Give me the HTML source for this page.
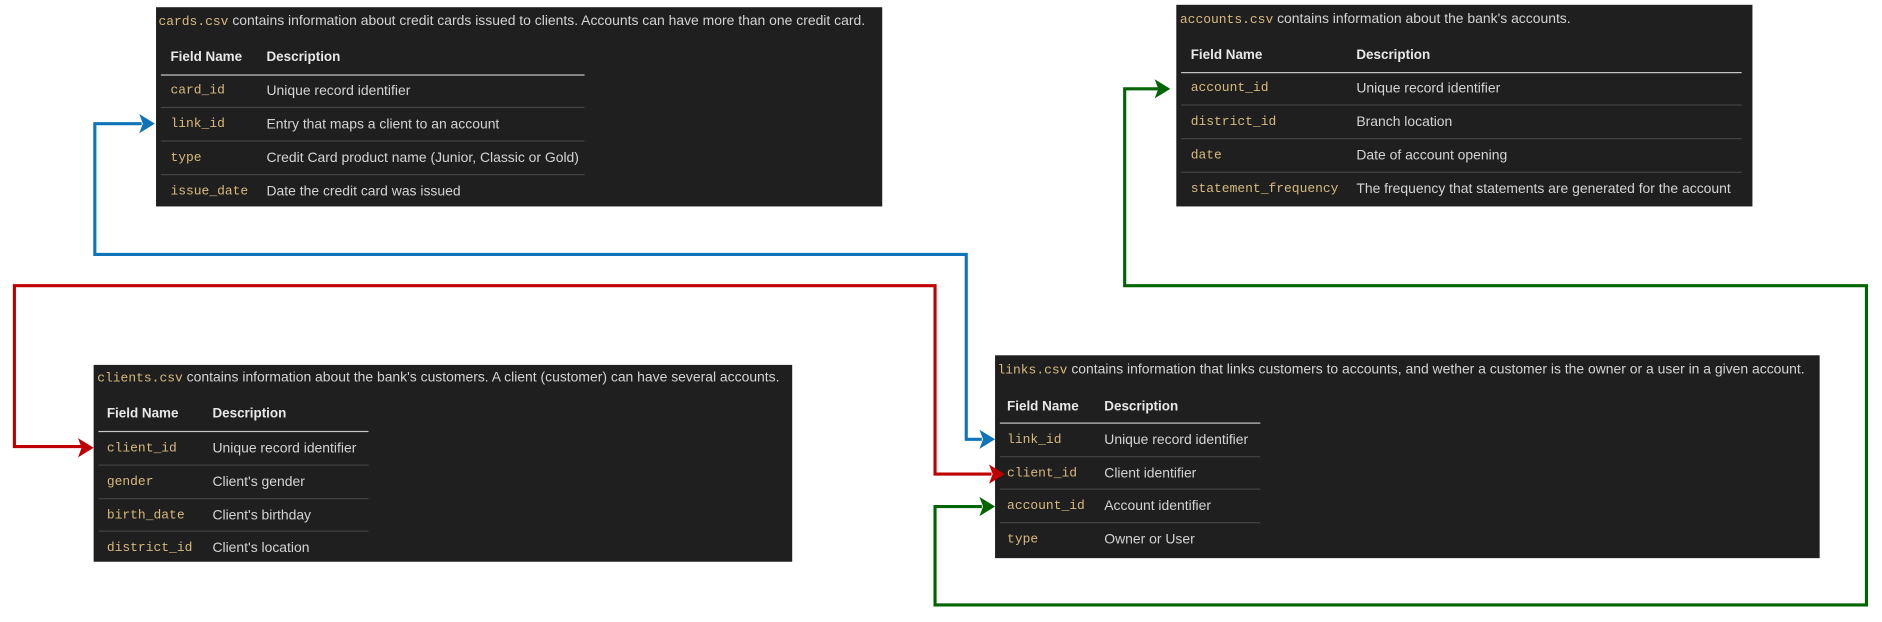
<!DOCTYPE html>
<html><head><meta charset="utf-8"><style>
html,body{margin:0;padding:0;background:#fff;width:1882px;height:622px;overflow:hidden}
#s{position:absolute;left:0;top:0;width:1568px;height:518px;transform:scale(1.2003);transform-origin:0 0}
.b{position:absolute;background:#1f1f1f}
.t{position:absolute;white-space:nowrap;font-family:"Liberation Sans",sans-serif;font-size:11.6px;color:#d4d4d4;line-height:14px;margin-top:1px}
.m{font-family:"Liberation Mono",monospace;font-size:10.8px;color:#d7ba7d}
.h{font-weight:bold;color:#e8e8e8;font-size:11.2px}
.l{position:absolute;height:1px;background:#444}
.L{position:absolute;height:1px;background:#c8c8c8}
svg{position:absolute;left:0;top:0}
</style></head><body><div id="s">
<!-- cards -->
<div class="b" style="left:130px;top:6px;width:605px;height:166px"></div>
<div class="t" style="left:132px;top:10px"><span class="m">cards.csv</span> contains information about credit cards issued to clients. Accounts can have more than one credit card.</div>
<div class="t h" style="left:142px;top:40px">Field Name</div><div class="t h" style="left:222px;top:40px">Description</div>
<div class="L" style="left:134px;top:62px;width:353px"></div>
<div class="t m" style="left:142px;top:68px">card_id</div><div class="t" style="left:222px;top:68px">Unique record identifier</div>
<div class="l" style="left:134px;top:89px;width:353px"></div>
<div class="t m" style="left:142px;top:96px">link_id</div><div class="t" style="left:222px;top:96px">Entry that maps a client to an account</div>
<div class="l" style="left:134px;top:117px;width:353px"></div>
<div class="t m" style="left:142px;top:124px">type</div><div class="t" style="left:222px;top:124px">Credit Card product name (Junior, Classic or Gold)</div>
<div class="l" style="left:134px;top:145px;width:353px"></div>
<div class="t m" style="left:142px;top:152px">issue_date</div><div class="t" style="left:222px;top:152px">Date the credit card was issued</div>
<!-- accounts -->
<div class="b" style="left:980px;top:4px;width:480px;height:168px"></div>
<div class="t" style="left:983px;top:8px"><span class="m">accounts.csv</span> contains information about the bank's accounts.</div>
<div class="t h" style="left:992px;top:38px">Field Name</div><div class="t h" style="left:1130px;top:38px">Description</div>
<div class="L" style="left:984px;top:60px;width:467px"></div>
<div class="t m" style="left:992px;top:66px">account_id</div><div class="t" style="left:1130px;top:66px">Unique record identifier</div>
<div class="l" style="left:984px;top:87px;width:467px"></div>
<div class="t m" style="left:992px;top:94px">district_id</div><div class="t" style="left:1130px;top:94px">Branch location</div>
<div class="l" style="left:984px;top:115px;width:467px"></div>
<div class="t m" style="left:992px;top:122px">date</div><div class="t" style="left:1130px;top:122px">Date of account opening</div>
<div class="l" style="left:984px;top:143px;width:467px"></div>
<div class="t m" style="left:992px;top:150px">statement_frequency</div><div class="t" style="left:1130px;top:150px">The frequency that statements are generated for the account</div>
<!-- clients -->
<div class="b" style="left:78px;top:304px;width:582px;height:164px"></div>
<div class="t" style="left:81px;top:307px"><span class="m">clients.csv</span> contains information about the bank's customers. A client (customer) can have several accounts.</div>
<div class="t h" style="left:89px;top:337px">Field Name</div><div class="t h" style="left:177px;top:337px">Description</div>
<div class="L" style="left:82px;top:359px;width:225px"></div>
<div class="t m" style="left:89px;top:366px">client_id</div><div class="t" style="left:177px;top:366px">Unique record identifier</div>
<div class="l" style="left:82px;top:387px;width:225px"></div>
<div class="t m" style="left:89px;top:394px">gender</div><div class="t" style="left:177px;top:394px">Client's gender</div>
<div class="l" style="left:82px;top:415px;width:225px"></div>
<div class="t m" style="left:89px;top:422px">birth_date</div><div class="t" style="left:177px;top:422px">Client's birthday</div>
<div class="l" style="left:82px;top:442px;width:225px"></div>
<div class="t m" style="left:89px;top:449px">district_id</div><div class="t" style="left:177px;top:449px">Client's location</div>
<!-- links -->
<div class="b" style="left:829px;top:296px;width:687px;height:169px"></div>
<div class="t" style="left:831px;top:300px"><span class="m">links.csv</span> contains information that links customers to accounts, and wether a customer is the owner or a user in a given account.</div>
<div class="t h" style="left:839px;top:331px">Field Name</div><div class="t h" style="left:920px;top:331px">Description</div>
<div class="L" style="left:833px;top:352px;width:217px"></div>
<div class="t m" style="left:839px;top:359px">link_id</div><div class="t" style="left:920px;top:359px">Unique record identifier</div>
<div class="l" style="left:833px;top:380px;width:217px"></div>
<div class="t m" style="left:839px;top:387px">client_id</div><div class="t" style="left:920px;top:387px">Client identifier</div>
<div class="l" style="left:833px;top:407px;width:217px"></div>
<div class="t m" style="left:839px;top:414px">account_id</div><div class="t" style="left:920px;top:414px">Account identifier</div>
<div class="l" style="left:833px;top:435px;width:217px"></div>
<div class="t m" style="left:839px;top:442px">type</div><div class="t" style="left:920px;top:442px">Owner or User</div>
<svg width="1568" height="518" viewBox="0 0 1568 518">
<g fill="none" stroke-width="2.6">
<polyline stroke="#0f75b8" points="118,103 79,103 79,212 805,212 805,366 818,366"/>
<polyline stroke="#c00000" points="68,372 12,372 12,238 779,238 779,395 826,395"/>
<polyline stroke="#006400" points="965,74 937,74 937,238 1555,238 1555,504 779,504 779,422 818,422"/>
</g>
<polygon fill="#0f75b8" points="129,103 116,95 119,103 116,111"/>
<polygon fill="#0f75b8" points="829,366 816,358 819,366 816,374"/>
<polygon fill="#c00000" points="78,373 65,365 68,373 65,381"/>
<polygon fill="#c00000" points="837,395 824,387 827,395 824,403"/>
<polygon fill="#006400" points="975,74 962,66 965,74 962,82"/>
<polygon fill="#006400" points="829,422 816,414 819,422 816,430"/>
</svg>
</div></body></html>
